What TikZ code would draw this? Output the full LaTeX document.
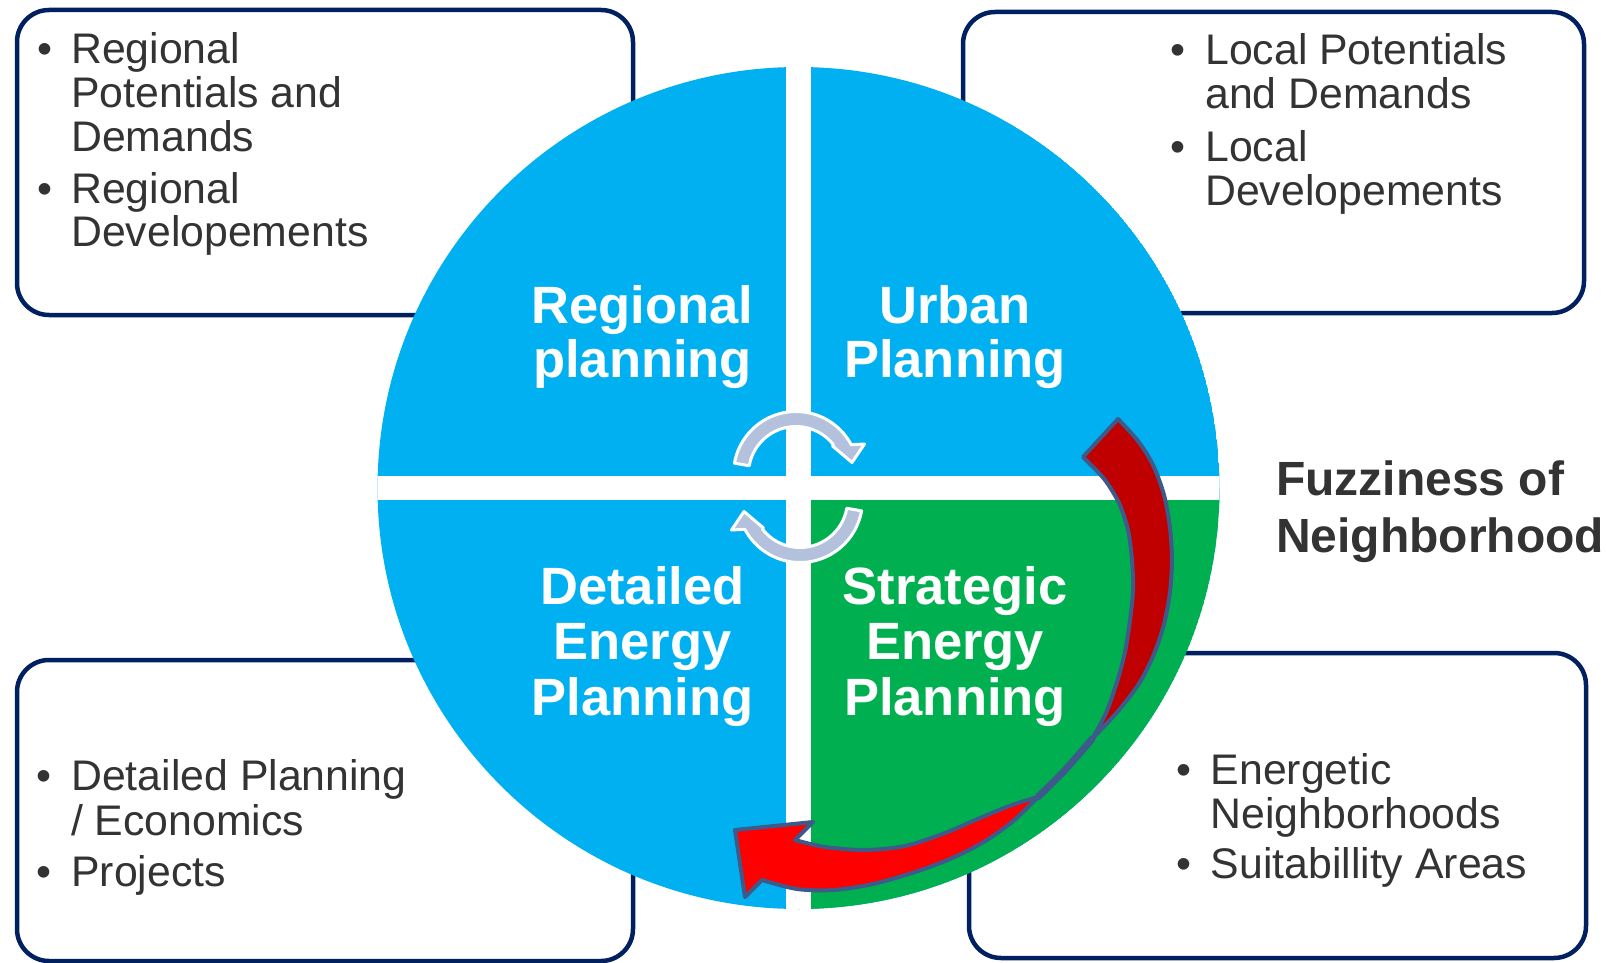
\documentclass[tikz,border=0pt]{standalone}
\usepackage{fontspec}
\setmainfont{Liberation Sans}
\usetikzlibrary{calc}

\definecolor{pieblue}{HTML}{00B0F0}
\definecolor{piegreen}{HTML}{00B050}
\definecolor{navy}{HTML}{002060}
\definecolor{bodytext}{HTML}{333333}
\definecolor{lavender}{HTML}{B4C1DD}
\definecolor{darkred}{HTML}{C00000}
\definecolor{brightred}{HTML}{FF0000}
\definecolor{slate}{HTML}{3D5A8A}

\tikzset{
  infobox/.style={draw=navy, line width=4.5pt, fill=white, rounded corners=32pt,
    inner sep=0pt, outer sep=0pt},
  boxline/.style={anchor=base west, inner sep=0pt, text=bodytext,
    font=\fontsize{42.8}{44}\selectfont},
  quadlabel/.style={anchor=base, inner sep=0pt, text=white,
    font=\fontsize{52.5}{55}\selectfont\bfseries},
  fuzzylabel/.style={anchor=base west, inner sep=0pt, text=bodytext,
    font=\fontsize{48}{50}\selectfont\bfseries},
  ribbon/.style={draw=slate, line width=4pt, line join=round},
  cyclearrow/.pic={
    \filldraw[fill=lavender, draw=white, line width=3pt, line join=round]
      (10:62.5) arc[start angle=10, end angle=152, radius=62.5]
      -- (-68.5,30) -- (-56,11.5) -- (-36.5,28)
      -- (142:47.5) arc[start angle=142, end angle=10, radius=47.5] -- cycle;
  },
}

\begin{document}
\begin{tikzpicture}[x=1pt, y=-1pt]
\useasboundingbox (0,0) rectangle (1606,963);

% ---------- corner boxes ----------
\node[infobox, minimum width=616pt, minimum height=305pt] (tlbox) at (325,162.5) {};
\node[infobox, minimum width=621pt, minimum height=301pt] (trbox) at (1273.5,162.5) {};
\node[infobox, minimum width=616pt, minimum height=301pt] (blbox) at (325,810.5) {};
\node[infobox, minimum width=617pt, minimum height=305pt] (brbox) at (1277.5,805.5) {};

% top-left box
\node[boxline] (tlb1) at (37.6,63.3) {•};
\node[boxline] (tl1) at (71,63.3) {Regional};
\node[boxline] (tl2) at (71,107.3) {Potentials and};
\node[boxline] (tl3) at (71,151.5) {Demands};
\node[boxline] (tlb2) at (37.6,203) {•};
\node[boxline] (tl4) at (71,203) {Regional};
\node[boxline] (tl5) at (71,246.7) {Developements};

% top-right box
\node[boxline] (trb1) at (1170.6,65) {•};
\node[boxline] (tr1) at (1205,65) {Local Potentials};
\node[boxline] (tr2) at (1205,109) {and Demands};
\node[boxline] (trb2) at (1170.6,161.7) {•};
\node[boxline] (tr3) at (1205,161.7) {Local};
\node[boxline] (tr4) at (1205,205) {Developements};

% bottom-left box
\node[boxline] (blb1) at (36.6,790) {•};
\node[boxline] (bl1) at (71,790) {Detailed Planning};
\node[boxline] (bl2) at (71,835) {/ Economics};
\node[boxline] (blb2) at (36.6,886.7) {•};
\node[boxline] (bl3) at (71,886.7) {Projects};

% bottom-right box
\node[boxline] (brb1) at (1176.6,784) {•};
\node[boxline] (br1) at (1210.5,784) {Energetic};
\node[boxline] (br2) at (1210.5,828) {Neighborhoods};
\node[boxline] (brb2) at (1176.6,878) {•};
\node[boxline] (br3) at (1210.5,878) {Suitabillity Areas};

% ---------- four-quadrant disc ----------
\coordinate (C) at (798.5,488);
\begin{scope}
  \clip (C) circle[radius=421];
  \fill[pieblue] (C) circle[radius=421];
  \fill[piegreen] (C) rectangle ++(450,450);
  \fill[white] (786.3,40) rectangle (810.7,930);
  \fill[white] (360,476) rectangle (1240,500);
\end{scope}

% quadrant titles
\node[quadlabel] (rp1) at (642.5,323) {Regional};
\node[quadlabel] (rp2) at (642.5,377) {planning};
\node[quadlabel] (up1) at (955,323) {Urban};
\node[quadlabel] (up2) at (955,377) {Planning};
\node[quadlabel] (de1) at (642.5,604) {Detailed};
\node[quadlabel] (de2) at (642.5,659) {Energy};
\node[quadlabel] (de3) at (642.5,715) {Planning};
\node[quadlabel] (se1) at (955,604) {Strategic};
\node[quadlabel] (se2) at (955,659) {Energy};
\node[quadlabel] (se3) at (955,715) {Planning};

% ---------- small cycle arrows at the centre ----------
\pic[rotate=180] at (796,474) {cyclearrow};
\pic at (800,500) {cyclearrow};

% ---------- large curved ribbon arrow ----------
% back face (dark), from the cut tail down to the twist
\filldraw[ribbon, fill=darkred]
  plot[smooth] coordinates {(1118,419) (1138,441) (1153,465) (1164,495) (1170,528)
    (1172,560) (1170,592) (1164,624) (1154,654) (1140,682) (1119,710) (1092,739)}
  -- plot[smooth] coordinates {(1092,739) (1106,713) (1117,682) (1125,652) (1130,620)
    (1133,590) (1132,560) (1128,530) (1119,503) (1105,480) (1090,464)}
  -- (1083,457) -- cycle;
% twist
\draw[draw=slate, line width=7pt, line cap=round]
  plot[smooth] coordinates {(1092,739) (1065,770) (1038,797)};
% front face (bright) with the arrow head
\filldraw[ribbon, fill=brightred]
  plot[smooth] coordinates {(1038,797) (1012,822) (982,843) (950,859) (915,872)
    (873,884) (833,890) (797,889) (762,880)}
  -- (745,897) -- (735,830) -- (813,822)
  -- plot[smooth] coordinates {(795,840) (825,847) (865,850) (905,846) (945,833)
    (980,818) (1012,805) (1038,797)}
  -- cycle;

% ---------- side caption ----------
\node[fuzzylabel] (fz1) at (1276,495) {Fuzziness of};
\node[fuzzylabel] (fz2) at (1276,552) {Neighborhood};
\end{tikzpicture}
\end{document}
